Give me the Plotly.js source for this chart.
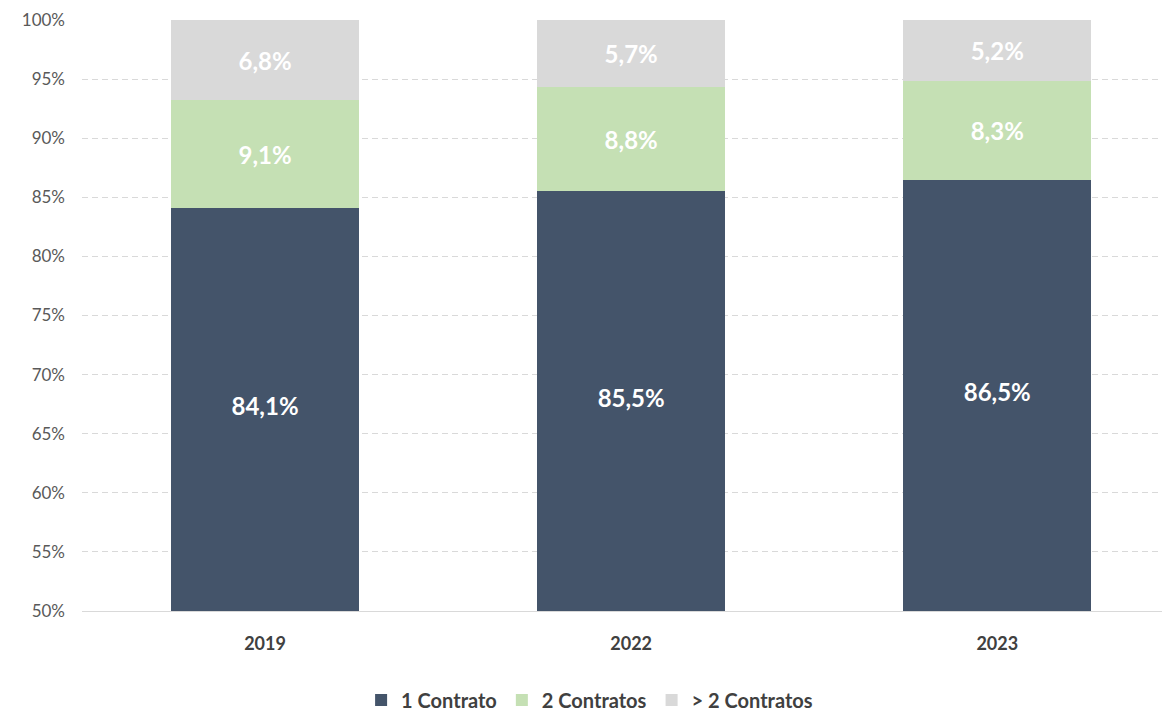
<!DOCTYPE html>
<html><head><meta charset="utf-8">
<script src="https://cdn.plot.ly/plotly-3.0.1.min.js"></script>
<style>body{margin:0;background:#fff}#c{width:1162px;height:712px}</style>
</head><body><div id="c"></div>
<script>
const years = ['2019','2022','2023'];
const oneContract = [84.1, 85.5, 86.5];
const twoContracts = [9.1, 8.8, 8.3];
const moreContracts = [6.8, 5.7, 5.2];
const seriesNames = ['1 Contrato','2 Contratos','> 2 Contratos'];
const colors = ['#44546A','#C5E0B4','#D9D9D9'];
const yMin = 50, yMax = 100;
const fmt = v => v.toFixed(1).replace('.', ',') + '%';
const font = 'Lato, "Open Sans", sans-serif';
const labelFont = () => ({color: '#ffffff', size: 24, family: font, weight: 'bold'});
const data = [oneContract, twoContracts, moreContracts].map((vals, i) => ({
  type: 'bar', x: years, y: vals, name: seriesNames[i],
  marker: {color: colors[i], line: {width: 0}},
  text: i === 0 ? undefined : vals.map(fmt),
  textposition: i === 0 ? 'none' : 'inside', insidetextanchor: 'middle',
  textfont: labelFont(), hoverinfo: 'skip', width: 0.513
}));
// first series labels centred in the visible part of the bar (axis starts at 50%)
data.push({
  type: 'scatter', mode: 'text', x: years, y: oneContract.map(v => (yMin + v) / 2),
  text: oneContract.map(fmt), textposition: 'middle center', textfont: labelFont(),
  showlegend: false, hoverinfo: 'skip', cliponaxis: false
});
const layout = {
  width: 1162, height: 712, barmode: 'stack',
  margin: {l: 82, r: 0, t: 20, b: 101},
  paper_bgcolor: '#fff', plot_bgcolor: '#fff',
  font: {family: font, color: '#595959'},
  xaxis: {type: 'category', range: [-0.5, 2.45], showgrid: false, zeroline: false,
    showline: true, linecolor: '#D9D9D9', linewidth: 1, automargin: false,
    tickfont: {size: 18, weight: 'bold', color: '#404040'}, ticks: '', ticklabelstandoff: 16},
  yaxis: {range: [yMin, yMax], dtick: 5, tick0: 50, ticksuffix: '%', showgrid: true,
    gridcolor: '#D9D9D9', griddash: '6px,4px', gridwidth: 1, zeroline: false, automargin: false,
    tickfont: {size: 17, color: '#595959'}, ticklabelstandoff: 16},
  legend: {orientation: 'h', x: 0.47, xanchor: 'center', yref: 'container', y: 0.017, yanchor: 'middle',
    font: {size: 20, weight: 'bold', color: '#404040'}, itemwidth: 30, traceorder: 'normal'},
  showlegend: true
};
Plotly.newPlot('c', data, layout, {displayModeBar: false, staticPlot: true});
</script></body></html>
